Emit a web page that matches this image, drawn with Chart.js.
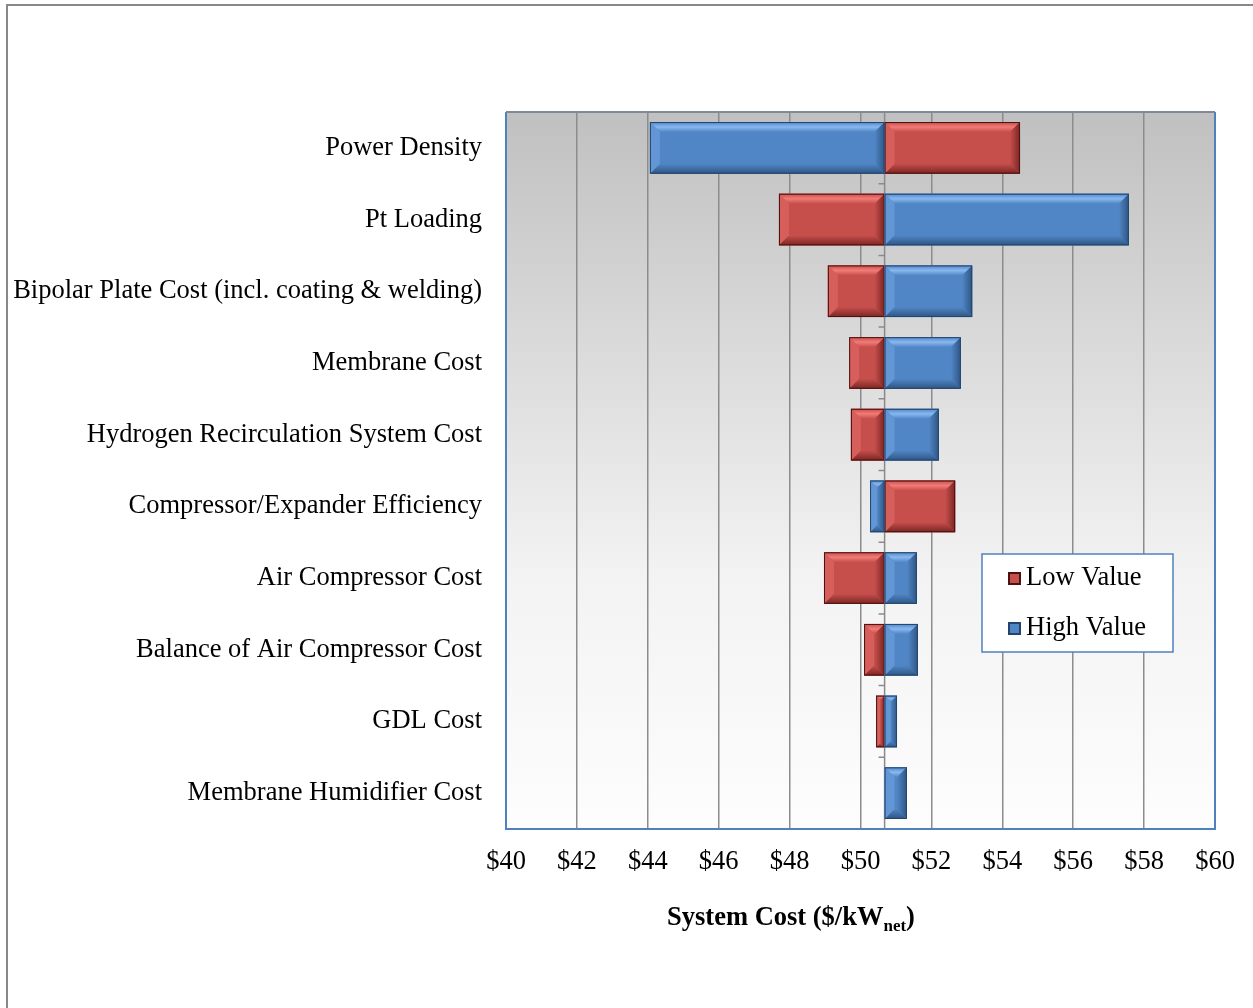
<!DOCTYPE html>
<html>
<head>
<meta charset="utf-8">
<script src="https://cdn.jsdelivr.net/npm/chart.js@4/dist/chart.umd.min.js"></script>
<style>
  html, body { margin: 0; padding: 0; background: #fff; }
  canvas { display: block; }
</style>
</head>
<body>
<canvas id="tornadoChart" width="1253" height="1008"></canvas>
<script>
// Sensitivity data ($/kWnet)
const categories = [
  'Power Density',
  'Pt Loading',
  'Bipolar Plate Cost (incl. coating & welding)',
  'Membrane Cost',
  'Hydrogen Recirculation System Cost',
  'Compressor/Expander Efficiency',
  'Air Compressor Cost',
  'Balance of Air Compressor Cost',
  'GDL Cost',
  'Membrane Humidifier Cost'
];
const baseCost = 50.68;
const lowValues = [54.50, 47.70, 49.08, 49.68, 49.73, 52.67, 48.97, 50.10, 50.44, 50.68];
const highValues = [44.06, 57.57, 53.15, 52.83, 52.21, 50.27, 51.59, 51.62, 51.03, 51.31];
const xTicks = [40, 42, 44, 46, 48, 50, 52, 54, 56, 58, 60];

const FONT = '"Liberation Serif", "Times New Roman", serif';
const FS = 26.5;

const palette = {
  red:  { main: '#c64f4c', light: '#f27b77', mid: '#d65f5b', dark: '#7a2523', edge: '#4a1212' },
  blue: { main: '#5186c6', light: '#88b8f0', mid: '#6296d5', dark: '#2e5583', edge: '#24456b' }
};

// background gradient, page frame and plot border
const framePlugin = {
  id: 'frame',
  beforeDraw(chart) {
    const { ctx, chartArea: a } = chart;
    ctx.save();
    ctx.fillStyle = '#fff';
    ctx.fillRect(0, 0, chart.width, chart.height);
    ctx.strokeStyle = '#888';
    ctx.lineWidth = 2;
    ctx.beginPath();
    ctx.moveTo(7, chart.height);
    ctx.lineTo(7, 5);
    ctx.lineTo(chart.width, 5);
    ctx.stroke();
    const g = ctx.createLinearGradient(0, a.top, 0, a.bottom);
    g.addColorStop(0, '#c0c0c0');
    g.addColorStop(0.3, '#d8d8d8');
    g.addColorStop(0.65, '#f3f3f3');
    g.addColorStop(1, '#fdfdfd');
    ctx.fillStyle = g;
    ctx.fillRect(a.left, a.top, a.right - a.left, a.bottom - a.top);
    ctx.restore();
  },
  afterDraw(chart) {
    const { ctx, chartArea: a } = chart;
    ctx.save();
    ctx.strokeStyle = '#4f81bd';
    ctx.lineWidth = 2;
    ctx.beginPath();
    ctx.moveTo(a.left, a.top);
    ctx.lineTo(a.left, a.bottom);
    ctx.lineTo(a.right, a.bottom);
    ctx.lineTo(a.right, a.top);
    ctx.stroke();
    ctx.strokeStyle = '#7f8a96';
    ctx.beginPath();
    ctx.moveTo(a.left, a.top);
    ctx.lineTo(a.right, a.top);
    ctx.stroke();

    // legend box
    const lx = 982, ly = 554, lw = 191, lh = 98;
    ctx.fillStyle = '#fff';
    ctx.fillRect(lx, ly, lw, lh);
    ctx.strokeStyle = '#4f81bd';
    ctx.lineWidth = 1.5;
    ctx.strokeRect(lx, ly, lw, lh);
    const items = [['Low Value', palette.red, 578], ['High Value', palette.blue, 628]];
    ctx.font = FS + 'px ' + FONT;
    ctx.textBaseline = 'middle';
    items.forEach(([label, c, y]) => {
      ctx.fillStyle = c.edge;
      ctx.fillRect(1008, y - 6, 13, 13);
      ctx.fillStyle = c.main;
      ctx.fillRect(1010, y - 4, 9, 9);
      ctx.fillStyle = '#000';
      ctx.fillText(label, 1026, y);
    });

    // axis title with subscript
    const cx = 791, by = 925;
    const p1 = 'System Cost ($/kW', p2 = 'net', p3 = ')';
    ctx.textBaseline = 'alphabetic';
    ctx.font = 'bold ' + FS + 'px ' + FONT;
    const w1 = ctx.measureText(p1).width, w3 = ctx.measureText(p3).width;
    ctx.font = 'bold 17px ' + FONT;
    const w2 = ctx.measureText(p2).width;
    let x = cx - (w1 + w2 + w3) / 2;
    ctx.fillStyle = '#000';
    ctx.font = 'bold ' + FS + 'px ' + FONT;
    ctx.fillText(p1, x, by);
    x += w1;
    ctx.font = 'bold 17px ' + FONT;
    ctx.fillText(p2, x, by + 6);
    x += w2;
    ctx.font = 'bold ' + FS + 'px ' + FONT;
    ctx.fillText(p3, x, by);
    ctx.restore();
  }
};

// base line with small ticks
const baseLinePlugin = {
  id: 'baseLine',
  beforeDatasetsDraw(chart) {
    const { ctx, chartArea: a, scales } = chart;
    const bx = scales.x.getPixelForValue(baseCost);
    ctx.save();
    ctx.strokeStyle = '#8a8a8a';
    ctx.lineWidth = 1.5;
    ctx.beginPath();
    ctx.moveTo(bx, a.top);
    ctx.lineTo(bx, a.bottom);
    for (let i = 0; i < categories.length - 1; i++) {
      const y = (scales.y.getPixelForTick(i) + scales.y.getPixelForTick(i + 1)) / 2;
      ctx.moveTo(bx - 6, y);
      ctx.lineTo(bx, y);
    }
    ctx.stroke();
    ctx.restore();
  }
};

// bevelled bars drawn over the library's bar elements
const bevelPlugin = {
  id: 'bevel',
  afterDatasetsDraw(chart) {
    const ctx = chart.ctx;
    chart.data.datasets.forEach((ds, di) => {
      const c = di === 0 ? palette.red : palette.blue;
      chart.getDatasetMeta(di).data.forEach(bar => {
        const { x, y, base, height } = bar.getProps(['x', 'y', 'base', 'height'], true);
        const l = Math.min(x, base), r = Math.max(x, base);
        const t = y - height / 2, b = y + height / 2;
        const w = r - l;
        if (w < 0.5) return;
        const bv = Math.min(10, w / 2, height / 2);
        ctx.save();
        ctx.fillStyle = c.main;
        ctx.fillRect(l, t, w, height);
        const poly = (pts, col) => {
          ctx.fillStyle = col;
          ctx.beginPath();
          ctx.moveTo(pts[0][0], pts[0][1]);
          pts.slice(1).forEach(p => ctx.lineTo(p[0], p[1]));
          ctx.closePath();
          ctx.fill();
        };
        const top = ctx.createLinearGradient(0, t, 0, t + bv);
        top.addColorStop(0, c.main);
        top.addColorStop(0.5, c.light);
        top.addColorStop(1, c.main);
        poly([[l, t], [r, t], [r - bv, t + bv], [l + bv, t + bv]], top);
        const bot = ctx.createLinearGradient(0, b - bv, 0, b);
        bot.addColorStop(0, c.main);
        bot.addColorStop(1, c.dark);
        poly([[l, b], [r, b], [r - bv, b - bv], [l + bv, b - bv]], bot);
        poly([[l, t], [l + bv, t + bv], [l + bv, b - bv], [l, b]], c.mid);
        const rt = ctx.createLinearGradient(r - bv, 0, r, 0);
        rt.addColorStop(0, c.main);
        rt.addColorStop(1, c.dark);
        poly([[r, t], [r - bv, t + bv], [r - bv, b - bv], [r, b]], rt);
        ctx.strokeStyle = c.edge;
        ctx.lineWidth = 1;
        ctx.strokeRect(l + 0.5, t + 0.5, w - 1, height - 1);
        ctx.restore();
      });
    });
  }
};

new Chart(document.getElementById('tornadoChart'), {
  type: 'bar',
  data: {
    labels: categories,
    datasets: [
      {
        label: 'Low Value',
        data: lowValues.map(v => [baseCost, v]),
        backgroundColor: palette.red.main,
        grouped: false,
        barPercentage: 0.72,
        categoryPercentage: 1
      },
      {
        label: 'High Value',
        data: highValues.map(v => [baseCost, v]),
        backgroundColor: palette.blue.main,
        grouped: false,
        barPercentage: 0.72,
        categoryPercentage: 1
      }
    ]
  },
  options: {
    indexAxis: 'y',
    responsive: false,
    devicePixelRatio: 1,
    animation: false,
    layout: { padding: { top: 112, right: 38, left: 0, bottom: 0 } },
    plugins: {
      legend: { display: false },
      tooltip: { enabled: false }
    },
    scales: {
      x: {
        min: 40,
        max: 60,
        afterBuildTicks: axis => { axis.ticks = xTicks.map(v => ({ value: v })); },
        afterFit: axis => { axis.height = 179; },
        grid: { color: '#8c8c8c', lineWidth: 1.5, drawTicks: false },
        border: { display: false },
        ticks: {
          padding: 17,
          color: '#000',
          font: { family: FONT, size: FS },
          maxRotation: 0,
          callback: v => '$' + v
        }
      },
      y: {
        afterFit: axis => { axis.width = 506; },
        grid: { display: false, drawTicks: false },
        border: { display: false },
        ticks: {
          padding: 24,
          color: '#000',
          font: { family: FONT, size: FS }
        }
      }
    }
  },
  plugins: [framePlugin, baseLinePlugin, bevelPlugin]
});
</script>
</body>
</html>
